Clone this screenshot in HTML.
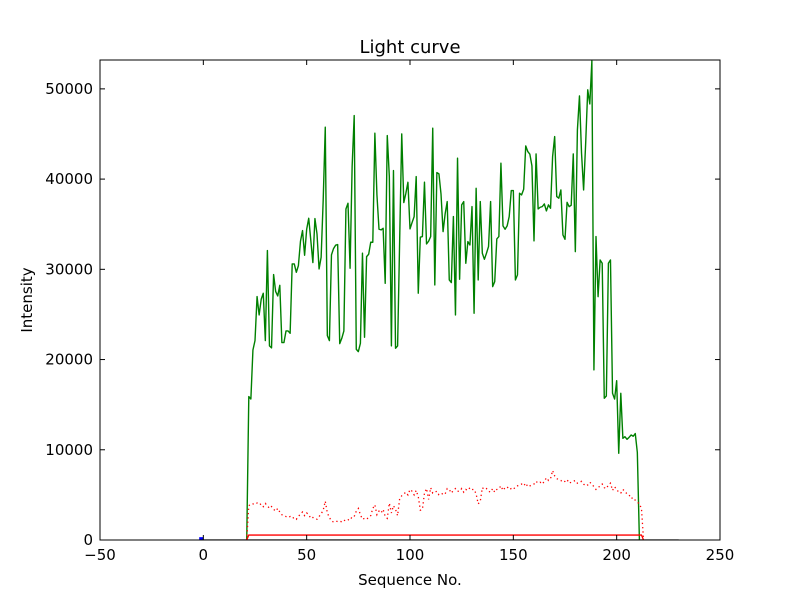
<!DOCTYPE html>
<html><head><meta charset="utf-8"><style>
body{margin:0;background:#fff;}
svg{display:block;font-family:"DejaVu Sans","Liberation Sans",sans-serif;}
</style></head>
<body>
<svg id="chart" width="800" height="600" xmlns="http://www.w3.org/2000/svg">
<rect width="800" height="600" fill="#fff"/>
<text x="410" y="53" font-size="18" text-anchor="middle">Light curve</text>
<text x="410" y="585" font-size="15" text-anchor="middle">Sequence No.</text>
<text x="0" y="0" font-size="15" text-anchor="middle" transform="translate(32,300) rotate(-90)">Intensity</text>
<g id="plot"></g>
</svg>
<script>
const xTicks = [-50, 0, 50, 100, 150, 200, 250];
const yTicks = [0, 10000, 20000, 30000, 40000, 50000];
const greenStart = 21;
const greenValues = [0,
15890,15630,21060,22100,26980,24940,26680,27350,22100,32080,21510,21290,29420,27530,27050,28230,21880,21880,23170,23170,22910,30600,30600,29670,30410,33110,34290,31560,34440,35660,33220,30750,35620,33920,30040,31340,37690,45750,22650,22100,31600,32300,32670,32740,21760,22360,23170,36690,37320,30120,41390,47040,21140,20880,21800,31780,22470,31410,31670,33000,33000,45080,38250,34440,34370,34550,28450,44820,40280,21510,40940,21250,21510,33260,45010,37400,38430,39650,34480,35180,35840,40280,27350,33560,33630,39650,32810,33110,33630,45640,28270,40720,40580,38360,34180,36140,37510,
28820,28530,35850,24940,42310,28900,37140,37510,30670,33070,32700,36950,25130,38980,28820,37510,31780,31110,31780,32520,37510,28080,28640,33370,33630,41760,34810,34440,34810,35850,38730,38730,28820,29380,38430,38250,38870,43680,43050,42760,41460,33150,42790,36690,36880,36950,37250,36470,37140,36770,42500,44710,38060,37880,38800,33810,33330,37430,36950,37100,42790,31960,45450,49220,42870,38800,43980,49890,48330,53100,
18850,33630,26970,31040,30670,15710,15960,30670,31040,16260,15620,17660,9610,16260,11270,11450,11160,11380,11640,11500,11800,9700,0];
const redDotStart = 21;
const redDotValues = [0,
3800,4000,4000,3950,4100,3900,4000,3700,
4050,3800,3500,3700,3400,3200,3500,3100,2800,2700,
2600,2500,2600,2400,2500,2300,2600,2900,3100,2700,
3000,2800,2400,2500,2400,2300,2600,2900,3300,4300,
3000,2500,2100,2000,2100,2050,2100,2000,2200,2100,
2200,2500,2400,2600,3200,3500,2800,2300,2400,2300,
2500,2700,3500,3900,2800,3200,3000,3400,2600,2400,
4100,3000,3800,3400,2700,4600,4900,5100,5300,5000,
5600,5400,5000,5500,4800,3300,3400,5200,5700,4500,
5800,5200,5300,5400,5000,5000,5200,5100,5700,5600,
5200,5500,5700,5400,5400,5700,5300,5600,5500,5800,
5600,5600,5100,4000,4300,5800,5600,5700,5400,5300,
5700,5300,5600,5700,6000,5500,5800,5900,5600,5700,
5600,5900,6000,6100,6200,6000,6300,5900,6000,6100,
6200,6500,6300,6400,6200,6500,6900,6600,6800,7700,
7100,6800,6700,6600,6400,6500,6700,6300,6400,6500,
6600,6300,6400,6500,6200,6000,6100,6400,6200,5900,
5600,5800,6000,6200,5800,5700,6100,6300,5500,5900,
5600,5300,5200,5600,5400,5100,5000,4600,4700,4400,
4200,4000,3500,0];
const redSolidSeq = [21, 22, 212, 213];
const redSolidValues = [0, 550, 550, 0];
const blackSeq = [0, 230];
const blackValues = [0, 0];
const blueSeq = [-2, 0];
const blueValues = [150, 150];

const L=100,R=720,T=60,B=540,XMIN=-50,XMAX=250,YMIN=0,YMAX=53200;
const xs=v=>L+(v-XMIN)/(XMAX-XMIN)*(R-L);
const ys=v=>B-(v-YMIN)/(YMAX-YMIN)*(B-T);
const NS="http://www.w3.org/2000/svg";
const g=document.getElementById('plot');
function mk(tag,attrs){const e=document.createElementNS(NS,tag);for(const k in attrs)e.setAttribute(k,attrs[k]);g.appendChild(e);return e;}
function pathFrom(seq,vals){return vals.map((v,i)=>(i?'L':'M')+xs(seq(i)).toFixed(2)+','+ys(v).toFixed(2)).join(' ');}

const defs=document.createElementNS(NS,'clipPath');defs.setAttribute('id','clip');
const cr=document.createElementNS(NS,'rect');cr.setAttribute('x',L);cr.setAttribute('y',T);cr.setAttribute('width',R-L);cr.setAttribute('height',B-T);
defs.appendChild(cr);g.appendChild(defs);

let p=mk('path',{d:pathFrom(i=>blackSeq[i],blackValues),fill:'none',stroke:'#000','stroke-width':1.2,'clip-path':'url(#clip)'});


p=mk('path',{d:pathFrom(i=>blueSeq[i],blueValues),fill:'none',stroke:'#0000ff','stroke-width':3,'clip-path':'url(#clip)'});


p=mk('path',{d:pathFrom(i=>greenStart+i,greenValues),fill:'none',stroke:'#008000','stroke-width':1.4,'stroke-linejoin':'round','clip-path':'url(#clip)'});


p=mk('path',{d:pathFrom(i=>redDotStart+i,redDotValues),fill:'none',stroke:'#ff0000','stroke-width':1.3,'stroke-dasharray':'1.3,3','clip-path':'url(#clip)'});


p=mk('path',{d:pathFrom(i=>redSolidSeq[i],redSolidValues),fill:'none',stroke:'#ff0000','stroke-width':1.3,'clip-path':'url(#clip)'});



const frame=mk('rect',{x:L,y:T,width:R-L,height:B-T,fill:'none',stroke:'#000','stroke-width':1});



xTicks.forEach(t=>{
  const x=xs(t);
  mk('line',{x1:x,y1:B,x2:x,y2:B-5,stroke:'#000'});
  mk('line',{x1:x,y1:T,x2:x,y2:T+5,stroke:'#000'});
  const tx=mk('text',{x:x,y:B+20,'font-size':15,'text-anchor':'middle'});
  tx.textContent=String(t).replace('-','\u2212');
  
  
});
yTicks.forEach(t=>{
  const y=ys(t);
  mk('line',{x1:L,y1:y,x2:L+5,y2:y,stroke:'#000'});
  mk('line',{x1:R,y1:y,x2:R-5,y2:y,stroke:'#000'});
  const tx=mk('text',{x:L-7,y:y+5,'font-size':15,'text-anchor':'end'});
  tx.textContent=String(t);
  
  
});
</script>
</body></html>
